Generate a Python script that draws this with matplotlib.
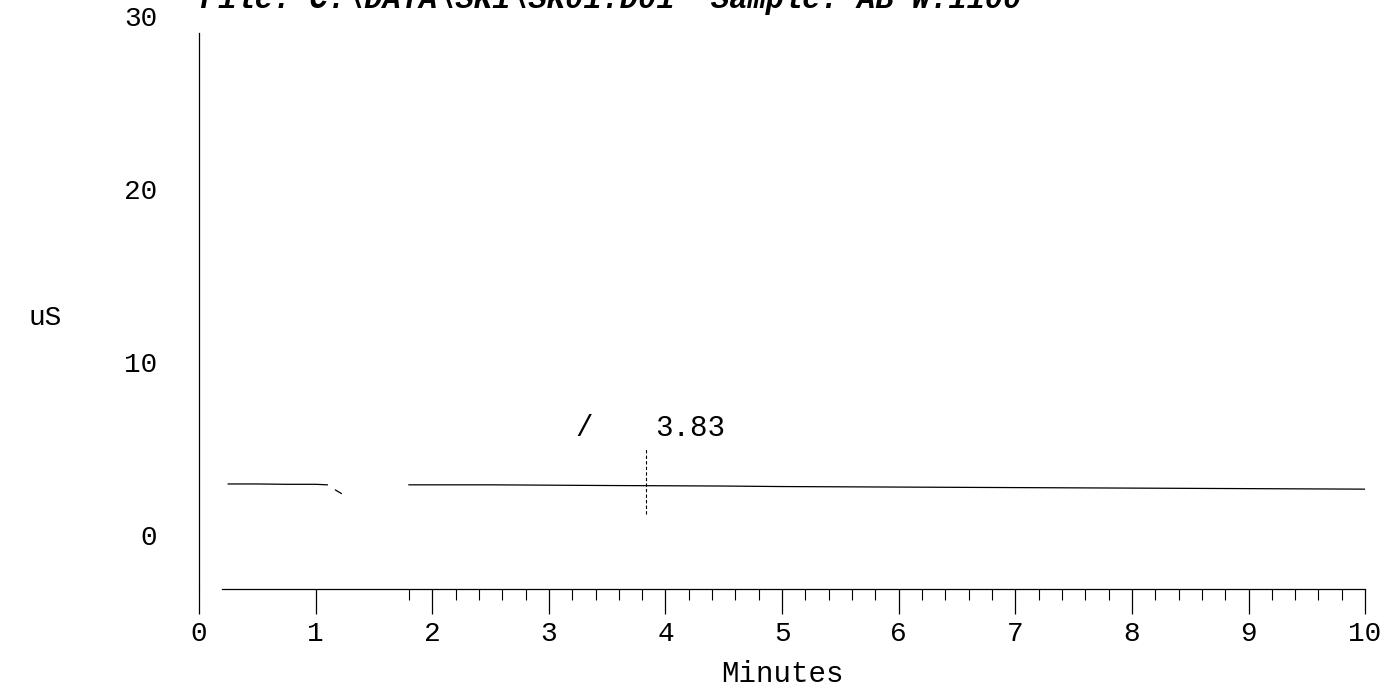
import matplotlib
matplotlib.use("Agg")
import matplotlib.pyplot as plt
import numpy as np

# trace (minutes, uS); NaN = no trace drawn
time_min = [0.25, 0.5, 0.75, 1.0, 1.1, np.nan, 1.17, 1.22, np.nan,
            1.8, 2.5, 3.0, 3.5, 3.83, 4.5, 5.0, 6.0, 7.0, 8.0, 9.0, 10.0]
signal_us = [2.95, 2.95, 2.93, 2.93, 2.9, np.nan, 2.6, 2.4, np.nan,
             2.9, 2.9, 2.88, 2.86, 2.85, 2.83, 2.8, 2.77, 2.74, 2.71, 2.68, 2.65]

peak_time = 3.83
peak_label = "3.83"
x_ticks = list(range(0, 11))
y_ticks = [0, 10, 20, 30]
title = r"File: C:\DATA\SK1\SK01.D01  Sample: AB W.1100"

mono = "Liberation Mono"

fig = plt.figure(figsize=(13.89, 6.87), dpi=100)
ax = fig.add_axes([0.1433, 0.1432, 0.8395, 0.8335])

ax.plot(time_min, signal_us, color="black", linewidth=0.9)

# peak marker
ax.vlines(peak_time, 1.2, 5.0, colors="black", linewidth=0.8, linestyles=(0, (3, 2)))
ax.text(peak_time + 0.08, 6.2, peak_label, fontsize=21, family=mono, va="center", ha="left")
ax.text(3.3, 6.2, "/", fontsize=21, family=mono, va="center", ha="center")

ax.set_xlim(0, 10)
ax.set_ylim(-3.1, 30)

ax.spines["top"].set_visible(False)
ax.spines["right"].set_visible(False)
ax.spines["left"].set_bounds(-3.1, 29)
ax.spines["bottom"].set_bounds(0.2, 10)
ax.spines["left"].set_linewidth(0.9)
ax.spines["bottom"].set_linewidth(0.9)

ax.set_xticks(x_ticks)
ax.set_xticks(np.arange(1.8, 10.01, 0.2), minor=True)
ax.set_yticks(y_ticks)
ax.tick_params(axis="x", which="major", direction="out", length=18, width=0.9, pad=5,
               labelsize=20)
ax.tick_params(axis="x", which="minor", direction="out", length=8, width=0.8)
ax.tick_params(axis="y", length=0, pad=30, labelsize=20)
for lbl in ax.get_xticklabels() + ax.get_yticklabels():
    lbl.set_family(mono)

ax.set_xlabel("Minutes", fontsize=21, family=mono, labelpad=10)
fig.text(45 / 1389, 1 - 318 / 687, "uS", fontsize=20, family=mono, ha="center", va="center")

fig.text(200 / 1389, 1 - 8 / 687, title, fontsize=22, family=mono,
         weight="bold", style="italic", ha="left", va="baseline")

fig.savefig("out.png", dpi=100)
